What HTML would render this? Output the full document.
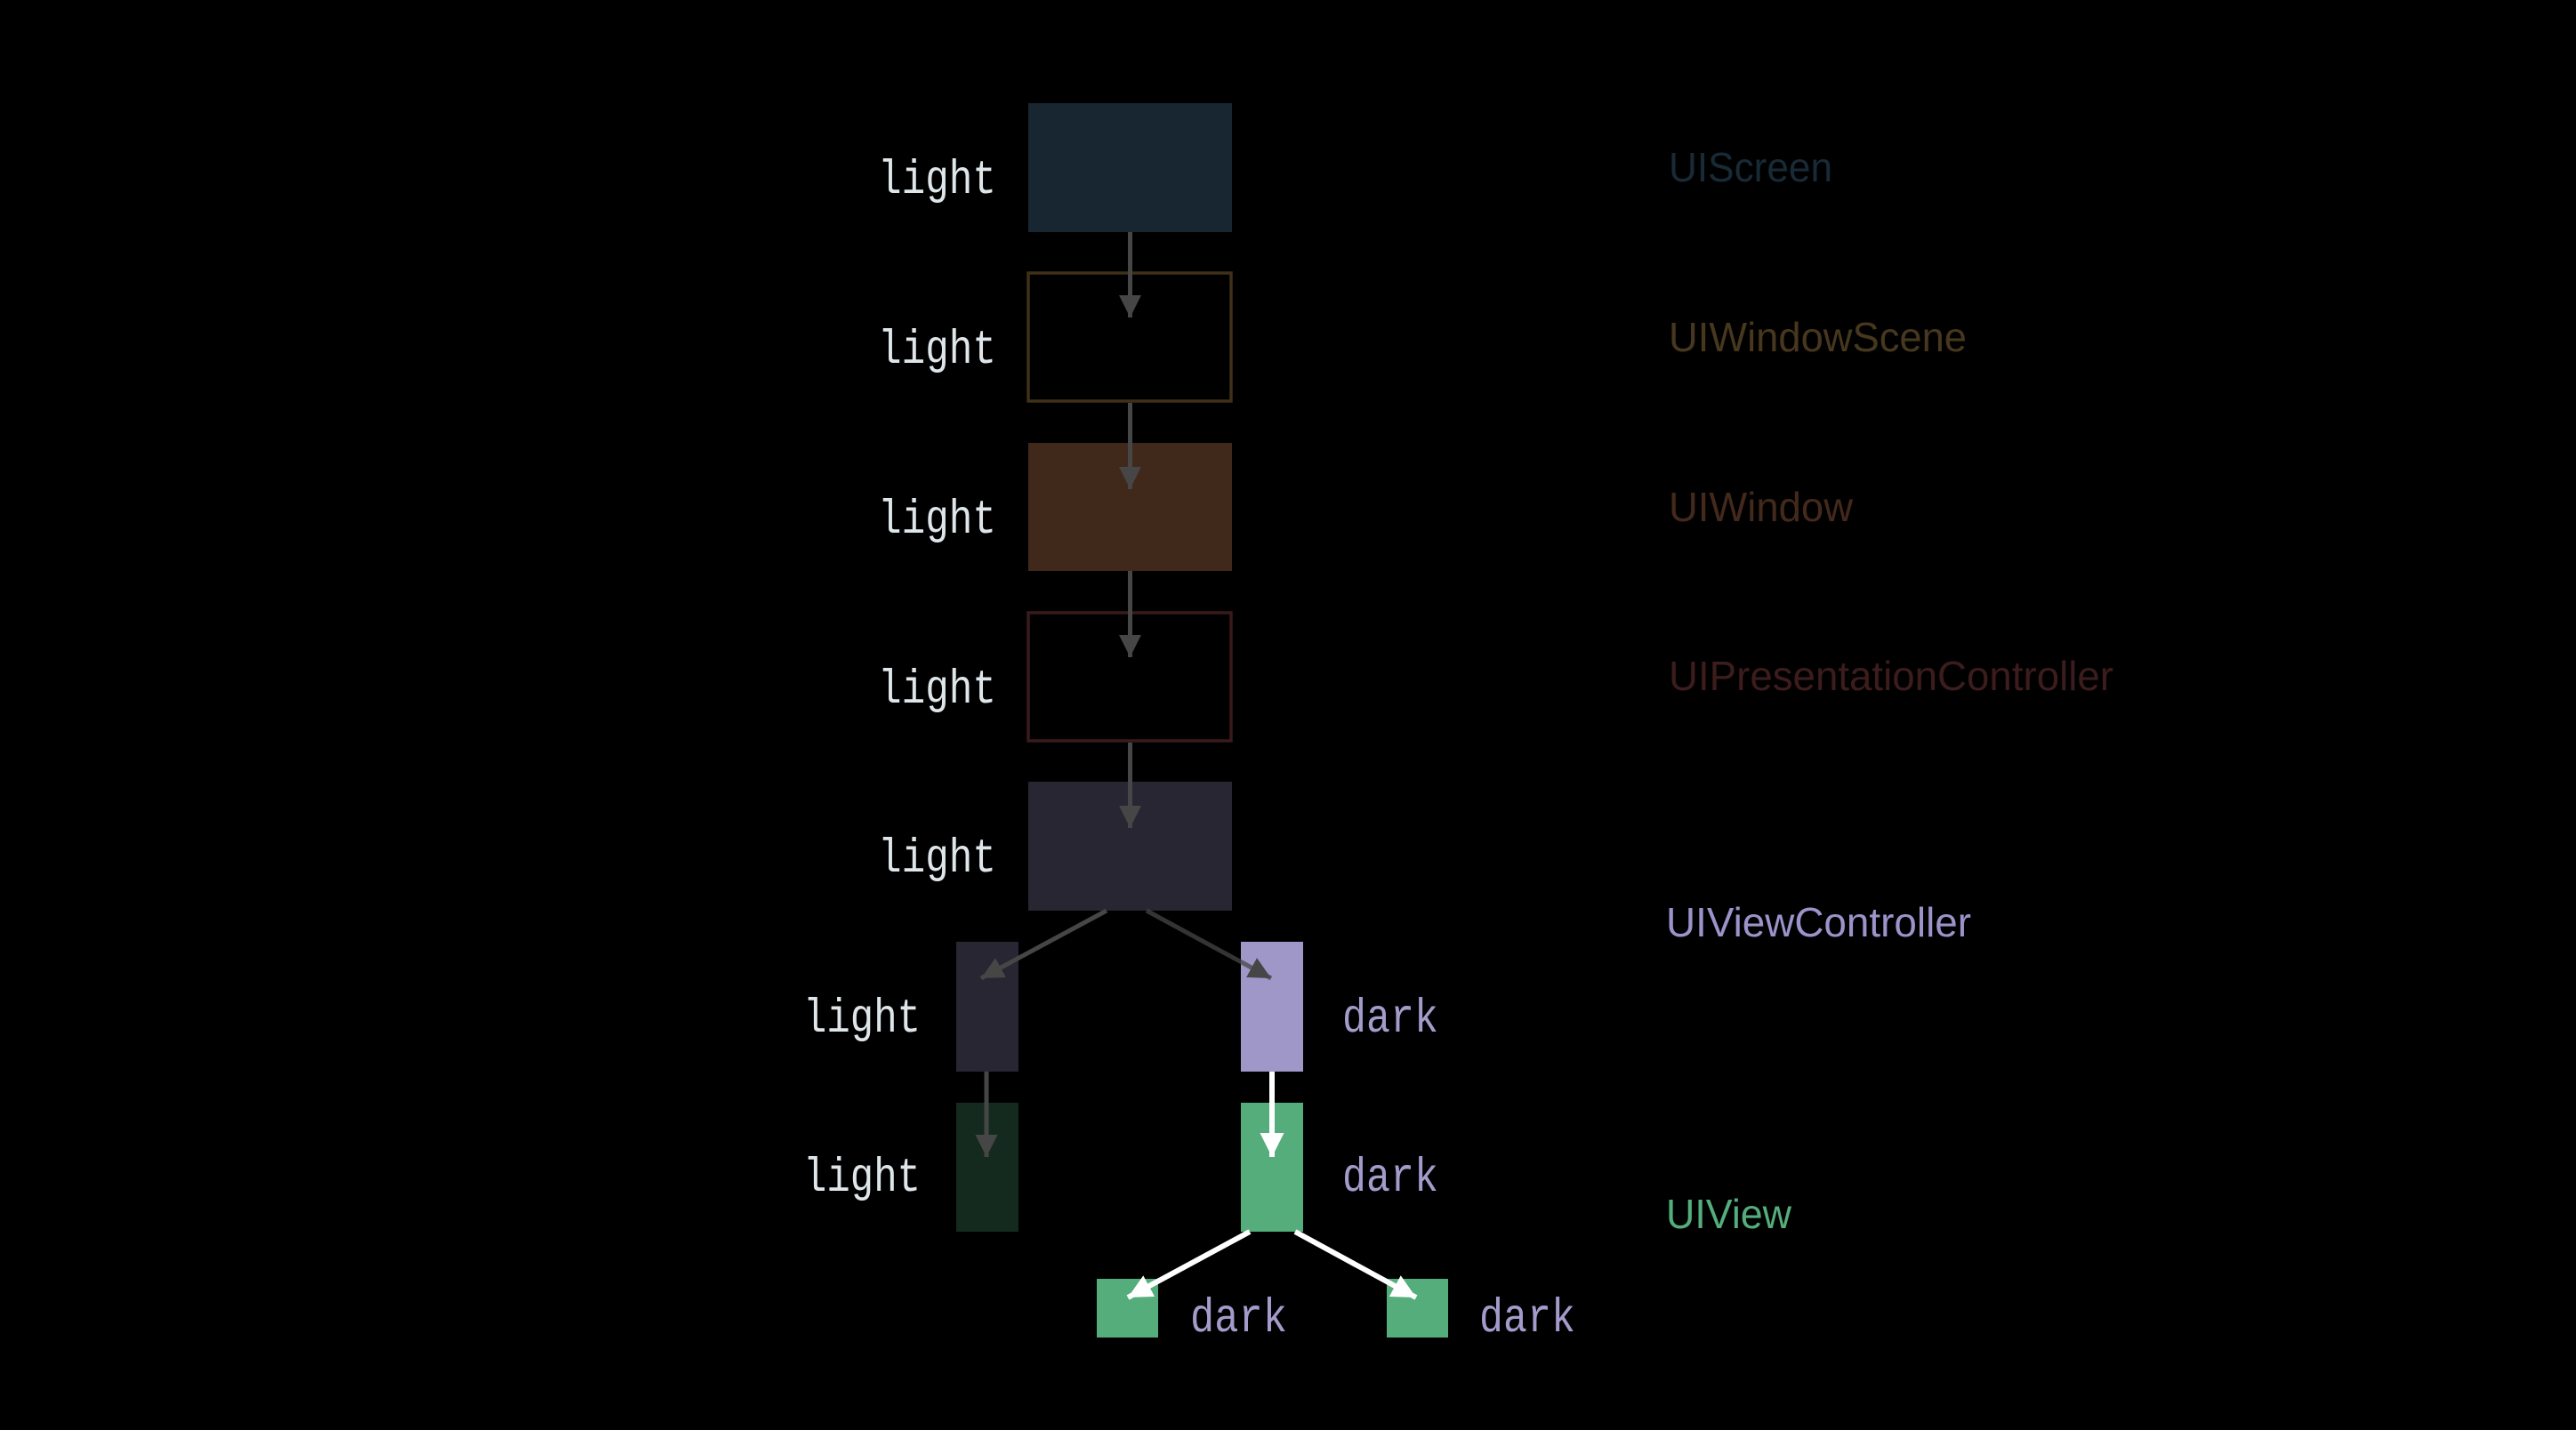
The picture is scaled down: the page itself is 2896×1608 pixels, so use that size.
<!DOCTYPE html>
<html><head><meta charset="utf-8"><style>
html,body{margin:0;padding:0;background:#000;width:2896px;height:1608px;overflow:hidden}
svg{display:block}
.mono{font-family:"Liberation Mono",monospace;font-size:54px}
.sans{font-family:"Liberation Sans",sans-serif;font-size:46px}
</style></head><body>
<svg width="2896" height="1608" viewBox="0 0 2896 1608">
<defs>
<marker id="ag" viewBox="0 0 10 10" refX="10" refY="5" markerWidth="5" markerHeight="5" markerUnits="strokeWidth" orient="auto"><path d="M0,0 L10,5 L0,10 z" fill="#464646"/></marker>
<marker id="aw" viewBox="0 0 10 10" refX="10" refY="5" markerWidth="4.5" markerHeight="4.5" markerUnits="strokeWidth" orient="auto"><path d="M0,0 L10,5 L0,10 z" fill="#fff"/></marker>
</defs>
<rect width="2896" height="1608" fill="#000"/>
<rect x="1156" y="116" width="229" height="145" fill="#172631"/>
<rect x="1156" y="307" width="228" height="144" fill="none" stroke="#3f3119" stroke-width="3.5"/>
<rect x="1156" y="498" width="229" height="144" fill="#40281a"/>
<rect x="1156" y="689" width="228" height="144" fill="none" stroke="#3a1a1a" stroke-width="3.5"/>
<rect x="1156" y="879" width="229" height="145" fill="#272632"/>
<rect x="1075" y="1059" width="70" height="146" fill="#272632"/>
<rect x="1395" y="1059" width="70" height="146" fill="#a097c9"/>
<rect x="1075" y="1240" width="70" height="145" fill="#152a1f"/>
<rect x="1395" y="1240" width="70" height="145" fill="#54ad7b"/>
<rect x="1233" y="1438" width="69" height="66" fill="#54ad7b"/>
<rect x="1559" y="1438" width="69" height="66" fill="#54ad7b"/>
<g stroke="#464646" stroke-width="5" fill="none">
<line x1="1270.5" y1="261" x2="1270.5" y2="357" marker-end="url(#ag)"/>
<line x1="1270.5" y1="453" x2="1270.5" y2="550" marker-end="url(#ag)"/>
<line x1="1270.5" y1="642" x2="1270.5" y2="739" marker-end="url(#ag)"/>
<line x1="1270.5" y1="835" x2="1270.5" y2="931" marker-end="url(#ag)"/>
<line x1="1244" y1="1024" x2="1103" y2="1100" marker-end="url(#ag)"/>
<line x1="1289" y1="1024" x2="1429" y2="1100" stroke-opacity="0.75" marker-end="url(#ag)"/>
<line x1="1109" y1="1205" x2="1109" y2="1301" marker-end="url(#ag)"/>
</g>
<g stroke="#fff" stroke-width="6" fill="none">
<line x1="1430" y1="1205" x2="1430" y2="1301" marker-end="url(#aw)"/>
<line x1="1405" y1="1385" x2="1268" y2="1459" marker-end="url(#aw)"/>
<line x1="1456" y1="1385" x2="1592" y2="1459" marker-end="url(#aw)"/>
</g>
<g class="mono" fill="#dfe6ea">
<text x="987" y="217" textLength="133" lengthAdjust="spacingAndGlyphs">light</text>
<text x="987" y="408" textLength="133" lengthAdjust="spacingAndGlyphs">light</text>
<text x="987" y="599" textLength="133" lengthAdjust="spacingAndGlyphs">light</text>
<text x="987" y="790" textLength="133" lengthAdjust="spacingAndGlyphs">light</text>
<text x="987" y="980" textLength="133" lengthAdjust="spacingAndGlyphs">light</text>
<text x="903" y="1160" textLength="132" lengthAdjust="spacingAndGlyphs">light</text>
<text x="903" y="1339" textLength="132" lengthAdjust="spacingAndGlyphs">light</text>
</g>
<g class="mono" fill="#a49bcb">
<text x="1509" y="1160" textLength="108" lengthAdjust="spacingAndGlyphs">dark</text>
<text x="1509" y="1339" textLength="108" lengthAdjust="spacingAndGlyphs">dark</text>
<text x="1338" y="1497" textLength="109" lengthAdjust="spacingAndGlyphs">dark</text>
<text x="1663" y="1497" textLength="108" lengthAdjust="spacingAndGlyphs">dark</text>
</g>
<g class="sans">
<text x="1876" y="204" fill="#172a36" textLength="184" lengthAdjust="spacingAndGlyphs">UIScreen</text>
<text x="1876" y="395" fill="#46371e" textLength="335" lengthAdjust="spacingAndGlyphs">UIWindowScene</text>
<text x="1876" y="586" fill="#43291b" textLength="207" lengthAdjust="spacingAndGlyphs">UIWindow</text>
<text x="1876" y="776" fill="#3c1c1c" textLength="500" lengthAdjust="spacingAndGlyphs">UIPresentationController</text>
<text x="1873" y="1053" fill="#9b93c9" textLength="343" lengthAdjust="spacingAndGlyphs">UIViewController</text>
<text x="1873" y="1381" fill="#54ad7b" textLength="141" lengthAdjust="spacingAndGlyphs">UIView</text>
</g>
</svg>
</body></html>
